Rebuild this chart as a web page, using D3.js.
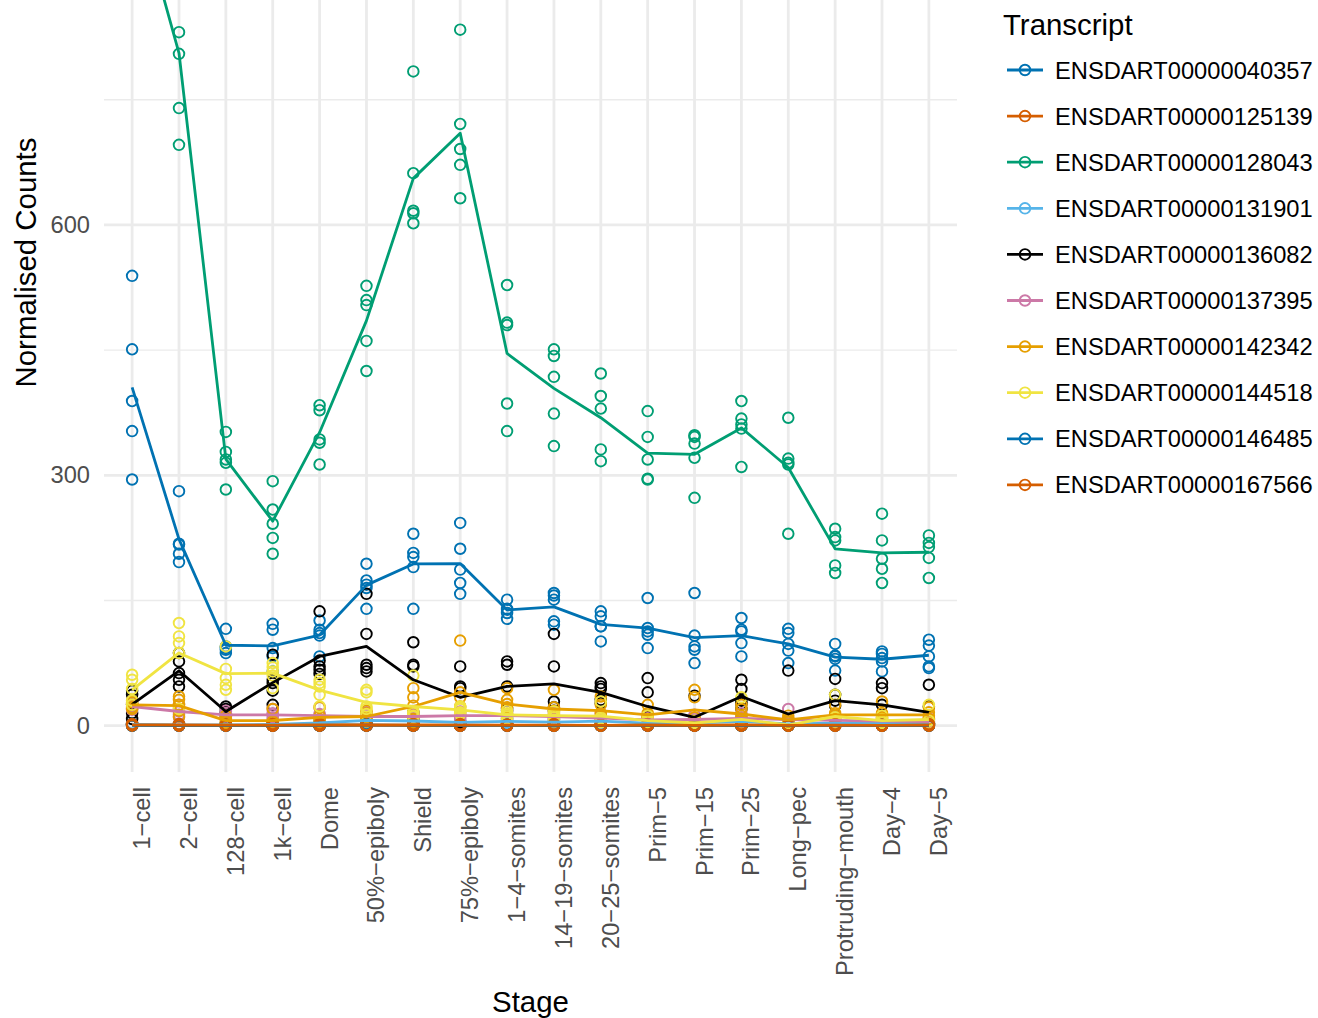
<!DOCTYPE html>
<html>
<head>
<meta charset="utf-8">
<script src="https://cdn.jsdelivr.net/npm/d3@7"></script>
<style>
  body { margin: 0; background: #fff; }
  text { font-family: "Liberation Sans", Arial, Helvetica, sans-serif; }
</style>
</head>
<body>
<svg id="chart" width="1318" height="1018"></svg>
<script>
const stages = ["1-cell", "2-cell", "128-cell", "1k-cell", "Dome", "50%-epiboly", "Shield",
  "75%-epiboly", "1-4-somites", "14-19-somites", "20-25-somites", "Prim-5", "Prim-15",
  "Prim-25", "Long-pec", "Protruding-mouth", "Day-4", "Day-5"];

const transcripts = ["ENSDART00000040357", "ENSDART00000125139", "ENSDART00000128043",
  "ENSDART00000131901", "ENSDART00000136082", "ENSDART00000137395", "ENSDART00000142342",
  "ENSDART00000144518", "ENSDART00000146485", "ENSDART00000167566"];

const palette = ["#0072B2", "#D55E00", "#009E73", "#56B4E9", "#000000",
  "#CC79A7", "#E69F00", "#F0E442", "#0072B2", "#D55E00"];

const yTicks = [0, 300, 600];
const yMinor = [150, 450, 750];

// replicate counts, one row of 5 per stage
const t40357 = [
  [539, 451, 389, 353, 295], [281, 218, 217, 206, 196], [116, 95, 93, 91, 87],
  [122, 115, 93, 83, 65], [126, 115, 111, 108, 83], [194, 174, 169, 165, 140],
  [230, 207, 202, 190, 140], [243, 212, 187, 171, 158], [151, 140, 139, 135, 128],
  [159, 156, 151, 125, 121], [137, 131, 119, 119, 101], [153, 117, 113, 109, 93],
  [159, 108, 95, 91, 75], [129, 115, 113, 99, 83], [116, 111, 98, 90, 75],
  [98, 84, 83, 80, 66], [89, 86, 81, 77, 65], [103, 96, 83, 71, 69]];
const t125139 = [
  [2, 1, 1, 0, 0], [1, 1, 0, 0, 0], [1, 1, 0, 0, 0], [1, 0, 0, 0, 0], [2, 1, 1, 0, 0],
  [2, 1, 1, 0, 0], [1, 1, 0, 0, 0], [2, 1, 0, 0, 0], [1, 1, 0, 0, 0], [1, 0, 0, 0, 0],
  [1, 1, 0, 0, 0], [1, 0, 0, 0, 0], [1, 1, 0, 0, 0], [2, 1, 0, 0, 0], [1, 0, 0, 0, 0],
  [1, 1, 0, 0, 0], [1, 0, 0, 0, 0], [1, 1, 0, 0, 0]];
const t128043 = [
  [1110, 1060, 1000, 960, 910], [958, 831, 805, 740, 696], [352, 328, 319, 315, 283],
  [293, 259, 242, 225, 206], [384, 378, 343, 339, 313], [527, 510, 504, 461, 425],
  [784, 662, 617, 614, 602], [834, 721, 691, 672, 632], [528, 483, 480, 386, 353],
  [451, 443, 418, 374, 335], [422, 395, 380, 331, 317], [377, 346, 319, 296, 295],
  [348, 346, 338, 321, 273], [389, 368, 361, 356, 310], [369, 320, 315, 313, 230],
  [236, 226, 222, 192, 183], [254, 222, 200, 188, 171], [228, 219, 214, 201, 177]];
const t131901 = [
  [3, 2, 1, 1, 0], [2, 1, 1, 0, 0], [2, 1, 1, 0, 0], [3, 2, 1, 1, 0], [6, 4, 3, 2, 1],
  [10, 8, 6, 5, 3], [9, 7, 5, 4, 3], [6, 5, 4, 3, 2], [8, 6, 5, 4, 3], [7, 5, 4, 3, 2],
  [10, 7, 5, 3, 2], [5, 4, 3, 2, 1], [5, 4, 3, 2, 1], [9, 7, 5, 3, 2], [4, 3, 2, 1, 1],
  [5, 4, 3, 2, 1], [6, 4, 3, 2, 1], [7, 5, 3, 2, 1]];
const t136082 = [
  [42, 37, 25, 15, 8], [87, 77, 63, 55, 47], [23, 20, 17, 14, 11], [85, 55, 51, 42, 25],
  [137, 78, 71, 67, 62], [158, 110, 73, 69, 65], [100, 73, 71, 16, 15], [71, 47, 45, 4, 3],
  [77, 73, 47, 20, 18], [110, 71, 29, 22, 18], [51, 47, 44, 31, 27], [57, 40, 10, 5, 3],
  [36, 5, 3, 3, 3], [55, 44, 30, 26, 20], [66, 2, 1, 1, 0], [56, 37, 30, 24, 3],
  [51, 45, 25, 2, 2], [49, 23, 3, 3, 2]];
const t137395 = [
  [28, 25, 23, 20, 19], [25, 20, 17, 13, 10], [18, 15, 13, 11, 8], [20, 15, 13, 10, 7],
  [22, 14, 12, 8, 4], [16, 13, 11, 8, 7], [15, 13, 11, 9, 7], [17, 14, 12, 10, 7],
  [18, 14, 12, 9, 7], [16, 13, 11, 8, 7], [14, 11, 9, 7, 4], [12, 9, 7, 5, 2],
  [13, 9, 7, 5, 3], [15, 10, 8, 6, 4], [20, 7, 5, 3, 2], [12, 8, 6, 4, 2],
  [10, 7, 5, 3, 2], [9, 6, 5, 3, 2]];
const t142342 = [
  [30, 28, 25, 22, 20], [35, 31, 25, 18, 11], [12, 8, 5, 3, 2], [20, 5, 3, 2, 1],
  [22, 12, 8, 5, 3], [18, 15, 10, 7, 5], [45, 34, 24, 8, 4], [102, 40, 34, 23, 1],
  [45, 31, 26, 22, 6], [43, 22, 18, 12, 5], [35, 25, 15, 10, 5], [25, 15, 12, 8, 5],
  [43, 34, 10, 5, 3], [25, 20, 12, 8, 5], [12, 8, 7, 5, 3], [25, 15, 12, 8, 5],
  [29, 15, 10, 7, 4], [22, 16, 12, 8, 7]];
const t144518 = [
  [61, 55, 44, 30, 25], [123, 107, 99, 87, 20], [95, 68, 57, 49, 43], [75, 70, 65, 60, 45],
  [55, 51, 47, 37, 23], [43, 40, 23, 20, 14], [60, 17, 15, 12, 11], [23, 22, 20, 16, 14],
  [18, 15, 13, 11, 8], [17, 14, 12, 10, 7], [29, 10, 8, 6, 4], [12, 7, 5, 4, 2],
  [6, 4, 3, 2, 1], [34, 2, 1, 1, 0], [2, 1, 1, 0, 0], [37, 10, 5, 2, 1],
  [12, 8, 5, 3, 2], [25, 6, 3, 2, 1]];
const t146485 = [
  [1, 1, 0, 0, 0], [1, 0, 0, 0, 0], [1, 0, 0, 0, 0], [1, 1, 0, 0, 0], [1, 0, 0, 0, 0],
  [2, 1, 0, 0, 0], [1, 1, 0, 0, 0], [1, 0, 0, 0, 0], [1, 1, 0, 0, 0], [1, 0, 0, 0, 0],
  [1, 0, 0, 0, 0], [1, 1, 0, 0, 0], [1, 0, 0, 0, 0], [1, 0, 0, 0, 0], [1, 0, 0, 0, 0],
  [1, 1, 0, 0, 0], [1, 0, 0, 0, 0], [1, 0, 0, 0, 0]];
const t167566 = [
  [2, 1, 1, 1, 0], [2, 1, 1, 0, 0], [1, 1, 1, 0, 0], [2, 1, 0, 0, 0], [2, 1, 1, 0, 0],
  [1, 1, 1, 0, 0], [2, 1, 1, 0, 0], [2, 1, 0, 0, 0], [1, 1, 1, 0, 0], [2, 1, 0, 0, 0],
  [1, 1, 0, 0, 0], [2, 1, 1, 0, 0], [1, 1, 0, 0, 0], [2, 1, 1, 0, 0], [1, 1, 0, 0, 0],
  [2, 1, 0, 0, 0], [1, 1, 0, 0, 0], [2, 1, 1, 0, 0]];

const counts = [t40357, t125139, t128043, t131901, t136082,
  t137395, t142342, t144518, t146485, t167566];

// ---- layout (panel extends above the visible picture, as in the original crop)
const panel = { left: 104, right: 957, top: -247, bottom: 772 };
const svg = d3.select("#chart");

const series = transcripts.map((name, i) => ({
  name,
  color: palette[i],
  points: counts[i].flatMap((reps, s) => reps.map(v => ({ stage: stages[s], value: v }))),
  means: counts[i].map((reps, s) => ({ stage: stages[s], value: d3.mean(reps) }))
}));

const allValues = counts.flat(2);
const [lo, hi] = d3.extent(allValues);
const pad = (hi - lo) * 0.05;

const xScale = d3.scalePoint()
  .domain(stages)
  .range([panel.left, panel.right])
  .padding(0.6);
const yScale = d3.scaleLinear()
  .domain([lo - pad, hi + pad])
  .range([panel.bottom, panel.top]);

svg.append("defs").append("clipPath").attr("id", "panelClip")
  .append("rect")
  .attr("x", panel.left).attr("y", panel.top)
  .attr("width", panel.right - panel.left)
  .attr("height", panel.bottom - panel.top);

// grid
const grid = svg.append("g").attr("clip-path", "url(#panelClip)");
grid.selectAll(".minor").data(yMinor).enter().append("line")
  .attr("x1", panel.left).attr("x2", panel.right)
  .attr("y1", d => yScale(d)).attr("y2", d => yScale(d))
  .attr("stroke", "#EBEBEB").attr("stroke-width", 1.4);
grid.selectAll(".major").data(yTicks).enter().append("line")
  .attr("x1", panel.left).attr("x2", panel.right)
  .attr("y1", d => yScale(d)).attr("y2", d => yScale(d))
  .attr("stroke", "#EBEBEB").attr("stroke-width", 2.8);
grid.selectAll(".vmajor").data(stages).enter().append("line")
  .attr("x1", d => xScale(d)).attr("x2", d => xScale(d))
  .attr("y1", panel.top).attr("y2", panel.bottom)
  .attr("stroke", "#EBEBEB").attr("stroke-width", 2.8);

// axes (ggplot minimal: no lines, no ticks)
const yAxis = d3.axisLeft(yScale).tickValues(yTicks).tickSize(0).tickPadding(14);
const yAxisGroup = svg.append("g")
  .attr("transform", `translate(${panel.left},0)`)
  .call(yAxis);
yAxisGroup.select(".domain").remove();
yAxisGroup.selectAll("text")
  .attr("font-size", "23.7px")
  .attr("fill", "#4D4D4D")
  .attr("font-family", "'Liberation Sans', Arial, sans-serif");

const xAxis = d3.axisBottom(xScale).tickSize(0);
const xAxisGroup = svg.append("g")
  .attr("transform", `translate(0,${panel.bottom})`)
  .call(xAxis);
xAxisGroup.select(".domain").remove();
xAxisGroup.selectAll("text")
  .text(d => d.replace(/-/g, "\u2212"))
  .attr("font-size", "23.7px")
  .attr("fill", "#4D4D4D")
  .attr("font-family", "'Liberation Sans', Arial, sans-serif")
  .attr("text-anchor", "end")
  .attr("dy", null)
  .attr("y", 0)
  .attr("transform", "translate(17.5,15) rotate(-90)");

// points then lines
const plot = svg.append("g").attr("clip-path", "url(#panelClip)");
series.forEach(s => {
  plot.append("g").selectAll("circle")
    .data(s.points)
    .enter()
    .append("circle")
    .attr("cx", d => xScale(d.stage))
    .attr("cy", d => yScale(d.value))
    .attr("r", 5.3)
    .attr("fill", "none")
    .attr("stroke", s.color)
    .attr("stroke-width", 1.9);
});

const line = d3.line()
  .x(d => xScale(d.stage))
  .y(d => yScale(d.value));
series.forEach(s => {
  plot.append("path")
    .datum(s.means)
    .attr("d", line)
    .attr("fill", "none")
    .attr("stroke", s.color)
    .attr("stroke-width", 2.8)
    .attr("stroke-linejoin", "round");
});

// axis titles
svg.append("text")
  .text("Stage")
  .attr("x", (panel.left + panel.right) / 2)
  .attr("y", 1012)
  .attr("text-anchor", "middle")
  .attr("font-size", "29.4px")
  .attr("fill", "#000");
svg.append("text")
  .text("Normalised Counts")
  .attr("transform", `translate(36,${(panel.top + panel.bottom) / 2}) rotate(-90)`)
  .attr("text-anchor", "middle")
  .attr("font-size", "29.4px")
  .attr("fill", "#000");

// legend
const legend = svg.append("g").attr("transform", "translate(1003,0)");
legend.append("text")
  .text("Transcript")
  .attr("x", 0).attr("y", 35)
  .attr("font-size", "29.4px")
  .attr("fill", "#000");
const rows = legend.selectAll(".key")
  .data(series)
  .enter()
  .append("g")
  .attr("transform", (d, i) => `translate(0,${70 + i * 46.1})`);
rows.append("line")
  .attr("x1", 4).attr("x2", 40)
  .attr("stroke", d => d.color).attr("stroke-width", 2.8);
rows.append("circle")
  .attr("cx", 22).attr("r", 5.3)
  .attr("fill", "none")
  .attr("stroke", d => d.color).attr("stroke-width", 1.9);
rows.append("text")
  .text(d => d.name)
  .attr("x", 52).attr("y", 0)
  .attr("dy", "0.36em")
  .attr("font-size", "23.7px")
  .attr("fill", "#000");
</script>
</body>
</html>
